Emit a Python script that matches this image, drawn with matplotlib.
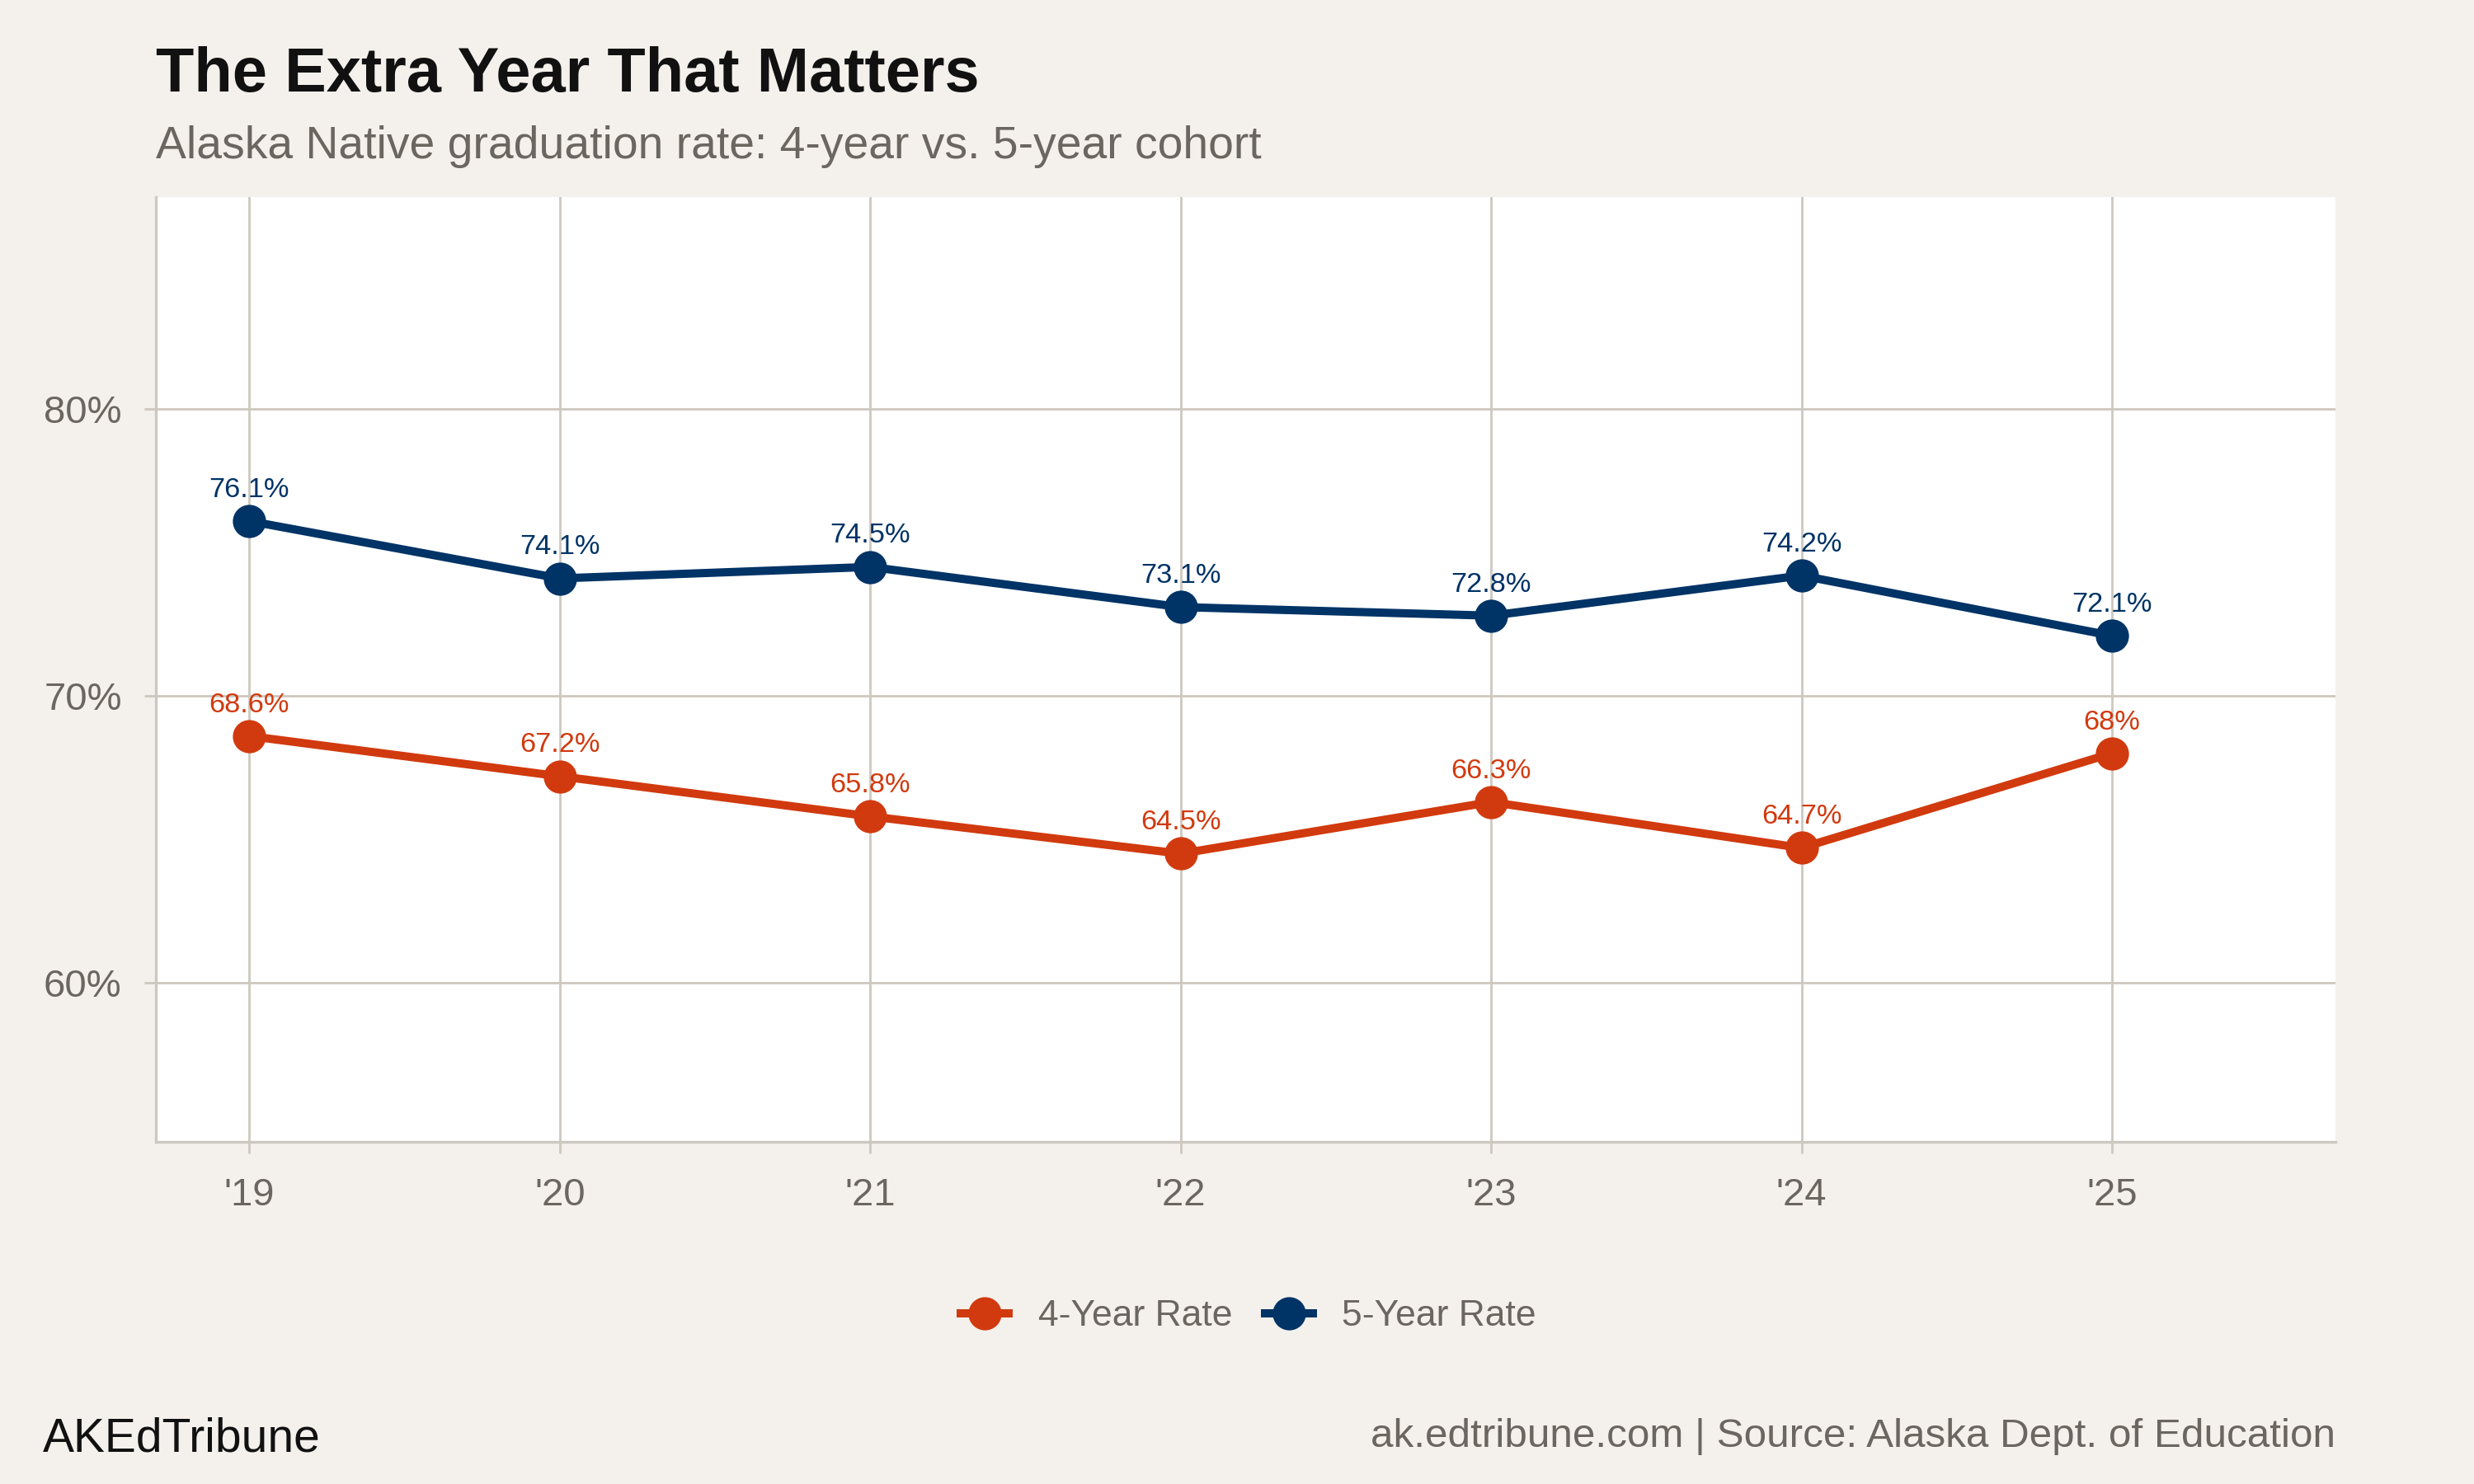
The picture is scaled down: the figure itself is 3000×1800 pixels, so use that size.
import matplotlib
matplotlib.use("Agg")
import matplotlib.pyplot as plt
from matplotlib.ticker import FuncFormatter

plt.rcParams['font.family'] = ['Liberation Sans', 'DejaVu Sans']

years = [2019, 2020, 2021, 2022, 2023, 2024, 2025]
year_labels = ["'19", "'20", "'21", "'22", "'23", "'24", "'25"]
rate_4yr = [68.6, 67.2, 65.8, 64.5, 66.3, 64.7, 68.0]
rate_5yr = [76.1, 74.1, 74.5, 73.1, 72.8, 74.2, 72.1]

bg = '#f4f1ec'
grid_c = '#cdc8bf'
gray_txt = '#6b6660'
orange = '#d13a0e'
navy = '#003366'

fig = plt.figure(figsize=(15, 9), dpi=200, facecolor=bg)
ax = fig.add_axes([0.0631, 0.2306, 0.8809, 0.6366])
ax.set_facecolor('white')

def fmt_pct(v):
    s = ('%.1f' % v).rstrip('0').rstrip('.')
    return s + '%'

for vals, col, name in [(rate_4yr, orange, '4-Year Rate'), (rate_5yr, navy, '5-Year Rate')]:
    ax.plot(years, vals, color=col, lw=3.6, marker='o', ms=13.5, label=name, zorder=3)
    for x, v in zip(years, vals):
        ax.annotate(fmt_pct(v), (x, v), xytext=(0, 10.5), textcoords='offset points',
                    ha='center', va='baseline', color=col, fontsize=12.4)

ax.set_xlim(2018.7, 2025.72)
ax.set_ylim(54.45, 87.4)
ax.set_xticks(years)
ax.set_xticklabels(year_labels)
ax.set_yticks([60, 70, 80])
ax.yaxis.set_major_formatter(FuncFormatter(lambda v, p: '%d%%' % v))

ax.grid(True, color=grid_c, lw=1)
ax.set_axisbelow(True)
for s in ['top', 'right']:
    ax.spines[s].set_visible(False)
for s in ['left', 'bottom']:
    ax.spines[s].set_color(grid_c)
    ax.spines[s].set_linewidth(1.2)
ax.tick_params(axis='both', colors=grid_c, labelcolor=gray_txt, labelsize=17, length=5, width=1)
ax.tick_params(axis='x', pad=10.5)
ax.tick_params(axis='y', pad=10)

fig.text(0.0631, 0.949, 'The Extra Year That Matters', fontsize=27.3, fontweight='bold',
         color='#111111', ha='left', va='center')
fig.text(0.0631, 0.901, 'Alaska Native graduation rate: 4-year vs. 5-year cohort', fontsize=19.9,
         color=gray_txt, ha='left', va='center')

leg = fig.legend(loc='center', bbox_to_anchor=(0.5047, 0.1128), ncol=2, frameon=False,
                 fontsize=16, handlelength=1.3, handletextpad=0.8, columnspacing=0.9,
                 labelcolor=gray_txt)

fig.text(0.0172, 0.0305, 'AKEdTribune', fontsize=20.5, color='#111111', ha='left', va='center')
fig.text(0.944, 0.032, 'ak.edtribune.com | Source: Alaska Dept. of Education', fontsize=17.8,
         color=gray_txt, ha='right', va='center')

fig.savefig('out.png', dpi=200, facecolor=bg)
